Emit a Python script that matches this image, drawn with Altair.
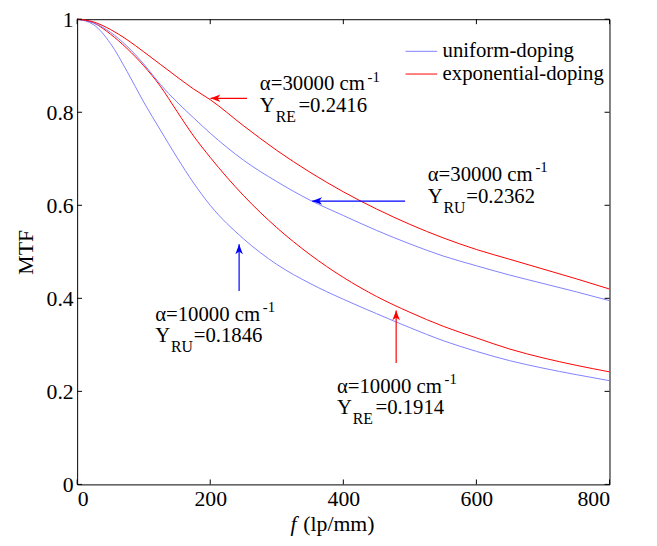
import altair as alt
import pandas as pd

# ---------------- data ----------------
freq = [0, 25, 50, 75, 100, 125, 150, 175, 200, 250, 300, 350, 400, 450, 500, 550, 600, 650, 700, 750, 800]
mtf_uniform_10k = [1.0, 0.988, 0.948, 0.888, 0.822, 0.762, 0.703, 0.648, 0.600, 0.528, 0.473, 0.432, 0.398,
                   0.367, 0.337, 0.309, 0.286, 0.266, 0.250, 0.236, 0.223]
mtf_exp_10k = [1.0, 0.992, 0.968, 0.937, 0.900, 0.856, 0.802, 0.749, 0.703, 0.621, 0.552, 0.494, 0.445,
               0.404, 0.370, 0.340, 0.315, 0.291, 0.272, 0.256, 0.242]
mtf_uniform_30k = [1.0, 0.992, 0.972, 0.942, 0.904, 0.860, 0.822, 0.788, 0.755, 0.697, 0.651, 0.611, 0.578,
                   0.546, 0.517, 0.491, 0.470, 0.450, 0.432, 0.414, 0.395]
mtf_exp_30k = [1.0, 0.994, 0.978, 0.956, 0.930, 0.903, 0.876, 0.850, 0.827, 0.771, 0.718, 0.671, 0.629,
               0.592, 0.559, 0.530, 0.505, 0.484, 0.463, 0.442, 0.420]

legend_labels = ["uniform-doping", "exponential-doping"]
line_colors = ["#8080ff", "#ff0000"]

x_ticks = [0, 200, 400, 600, 800]
y_ticks = [0, 0.2, 0.4, 0.6, 0.8, 1]

# annotations
ann_alpha = ["α=30000 cm", "α=30000 cm", "α=10000 cm", "α=10000 cm"]
ann_sup = ["-1", "-1", "-1", "-1"]
ann_y = ["Y", "Y", "Y", "Y"]
ann_sub = ["RE", "RU", "RU", "RE"]
ann_val = ["=0.2416", "=0.2362", "=0.1846", "=0.1914"]
ann_f = [274.6, 526.9, 117.3, 390.4]
ann_mtf = [0.847, 0.652, 0.352, 0.197]

# arrows
arrow_tail_f = [255.3, 492.8, 243.4, 479.4]
arrow_tail_mtf = [0.830, 0.609, 0.416, 0.261]
arrow_tip_f = [200.4, 353.2, 243.4, 479.4]
arrow_tip_mtf = [0.830, 0.609, 0.516, 0.374]
arrow_color = ["#ff0000", "#0000ff", "#0000ff", "#ff0000"]
arrow_angle = [0, 0, 90, 90]

x_title_var = "f"
x_title_unit = "(lp/mm)"
y_title = "MTF"

FONT = "serif"
W, H = 539, 471

# ---------------- tables ----------------
rows = []
for name, dop, vals in [("u10", legend_labels[0], mtf_uniform_10k),
                        ("e10", legend_labels[1], mtf_exp_10k),
                        ("u30", legend_labels[0], mtf_uniform_30k),
                        ("e30", legend_labels[1], mtf_exp_30k)]:
    for f, m in zip(freq, vals):
        rows.append({"curve": name, "doping": dop, "f": f, "mtf": m})
curves = pd.DataFrame(rows)

ann = pd.DataFrame({"f": ann_f, "mtf": ann_mtf, "alpha": ann_alpha, "sup": ann_sup,
                    "ylab": ann_y, "sub": ann_sub, "val": ann_val})
arrows = pd.DataFrame({"f0": arrow_tail_f, "m0": arrow_tail_mtf, "f1": arrow_tip_f,
                       "m1": arrow_tip_mtf, "color": arrow_color, "angle": arrow_angle})
xt = pd.DataFrame({"v": x_ticks})
yt = pd.DataFrame({"v": y_ticks})

xs = alt.Scale(domain=[0, 800], nice=False, zero=False)
ys = alt.Scale(domain=[0, 1], nice=False, zero=False)

lines = alt.Chart(curves).mark_line(strokeWidth=1, interpolate="monotone").encode(
    x=alt.X("f:Q", scale=xs, axis=alt.Axis(values=x_ticks, title=None, format="d", labelPadding=4)),
    y=alt.Y("mtf:Q", scale=ys, axis=alt.Axis(values=y_ticks, title=y_title, format="~g", labelPadding=4,
                                             titlePadding=9, titleFont=FONT, titleFontSize=22,
                                             titleFontWeight="normal", titleColor="black")),
    color=alt.Color("doping:N", scale=alt.Scale(domain=legend_labels, range=line_colors),
                    legend=alt.Legend(title=None, orient="none", legendX=338, legendY=22,
                                      symbolType="M-2,0L2,0", symbolSize=256, symbolStrokeWidth=1,
                                      labelFont=FONT, labelFontSize=21, labelColor="black",
                                      labelLimit=400, labelOffset=11, rowPadding=1, padding=0)),
    detail="curve:N",
)

# inward ticks on all four sides
tick_len = 5
t_bottom = alt.Chart(xt).mark_rule(color="black", strokeWidth=1).encode(
    x=alt.X("v:Q", scale=xs), y=alt.value(H), y2=alt.value(H - tick_len))
t_top = alt.Chart(xt).mark_rule(color="black", strokeWidth=1).encode(
    x=alt.X("v:Q", scale=xs), y=alt.value(0), y2=alt.value(tick_len))
t_left = alt.Chart(yt).mark_rule(color="black", strokeWidth=1).encode(
    y=alt.Y("v:Q", scale=ys), x=alt.value(0), x2=alt.value(tick_len))
t_right = alt.Chart(yt).mark_rule(color="black", strokeWidth=1).encode(
    y=alt.Y("v:Q", scale=ys), x=alt.value(W), x2=alt.value(W - tick_len))

# arrows
shafts = alt.Chart(arrows).mark_rule(strokeWidth=1.2).encode(
    x=alt.X("f0:Q", scale=xs), x2="f1:Q", y=alt.Y("m0:Q", scale=ys), y2="m1:Q",
    color=alt.Color("color:N", scale=None))
heads = alt.Chart(arrows).mark_point(shape="M0,0L1,-0.38L0.72,0L1,0.38Z", size=400, filled=True,
                                      opacity=1, strokeWidth=0).encode(
    x=alt.X("f1:Q", scale=xs), y=alt.Y("m1:Q", scale=ys),
    color=alt.Color("color:N", scale=None), angle=alt.Angle("angle:Q", scale=None))

txt = dict(align="left", baseline="alphabetic", font=FONT, color="black")
t_main = alt.Chart(ann).mark_text(fontSize=21, **txt).encode(
    x=alt.X("f:Q", scale=xs), y=alt.Y("mtf:Q", scale=ys), text="alpha:N")
t_sup = alt.Chart(ann).mark_text(fontSize=15, dx=109, dy=-9, **txt).encode(
    x=alt.X("f:Q", scale=xs), y=alt.Y("mtf:Q", scale=ys), text="sup:N")
t_y = alt.Chart(ann).mark_text(fontSize=21, dy=22, **txt).encode(
    x=alt.X("f:Q", scale=xs), y=alt.Y("mtf:Q", scale=ys), text="ylab:N")
t_sub = alt.Chart(ann).mark_text(fontSize=16, dx=16, dy=32, **txt).encode(
    x=alt.X("f:Q", scale=xs), y=alt.Y("mtf:Q", scale=ys), text="sub:N")
t_val = alt.Chart(ann).mark_text(fontSize=21, dx=39, dy=22, **txt).encode(
    x=alt.X("f:Q", scale=xs), y=alt.Y("mtf:Q", scale=ys), text="val:N")

# x axis title with italic f
xt_var = alt.Chart(pd.DataFrame({"t": [x_title_var]})).mark_text(
    fontSize=22, fontStyle="italic", **txt).encode(x=alt.value(216), y=alt.value(518), text="t:N")
xt_unit = alt.Chart(pd.DataFrame({"t": [x_title_unit]})).mark_text(
    fontSize=22, **txt).encode(x=alt.value(229), y=alt.value(518), text="t:N")

chart = alt.layer(
    lines, t_bottom, t_top, t_left, t_right, shafts, heads,
    t_main, t_sup, t_y, t_sub, t_val, xt_var, xt_unit
).properties(
    width=W, height=H,
    autosize=alt.AutoSizeParams(type="none"),
    padding={"left": 70, "top": 8, "right": 40, "bottom": 59},
    background="white",
).configure_view(
    stroke="black", strokeWidth=1
).configure_axis(
    domain=False, ticks=False, grid=False,
    labelFont=FONT, labelFontSize=22, labelColor="black",
)

chart.save("out.html", embed_options={"renderer": "svg", "actions": False})
